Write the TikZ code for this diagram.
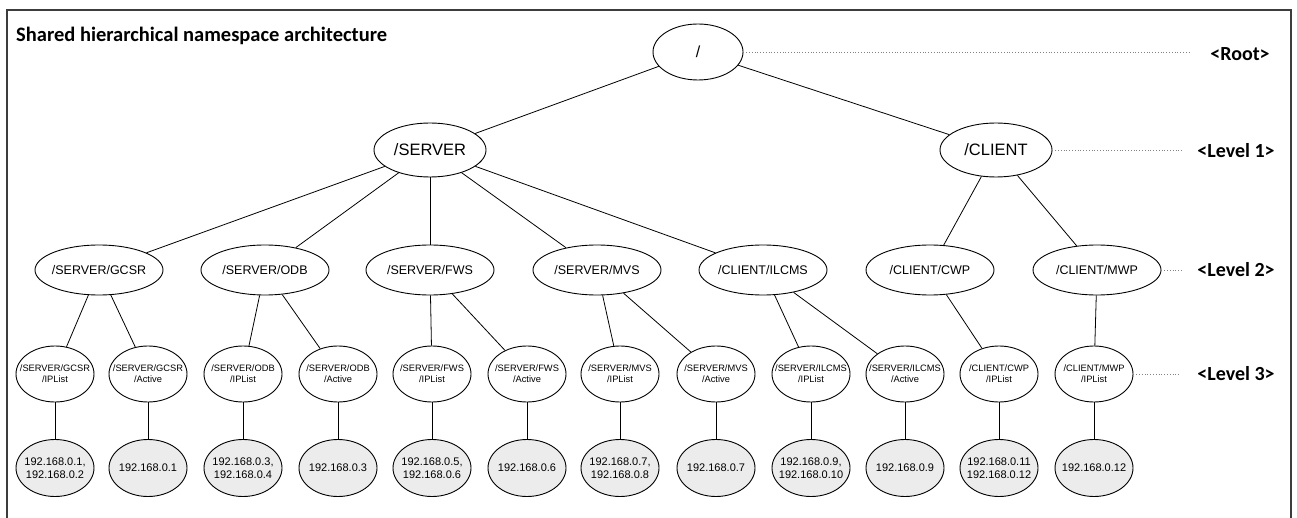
\documentclass[tikz,border=0pt]{standalone}
\usepackage{fontspec}
\setmainfont{Liberation Sans}
\newfontfamily\titlefont{Carlito}
\usetikzlibrary{shapes.geometric, positioning}
\definecolor{primary}{RGB}{0, 0, 0}
\definecolor{framegray}{RGB}{60, 60, 60}
\definecolor{dotgray}{RGB}{130, 130, 130}
\definecolor{leafgray}{RGB}{236, 236, 236}

\begin{document}
\begin{tikzpicture}[x=1pt, y=-1pt,
		ns/.style={ellipse, draw=primary, line width=0.9pt, fill=white,
			inner xsep=-14pt, inner ysep=-5pt, align=center},
		root/.style={ns, minimum width=90pt, minimum height=56pt,
			font=\fontsize{16}{18}\selectfont},
		lvla/.style={ns, minimum width=112pt, minimum height=54pt,
			font=\fontsize{16.5}{18}\selectfont},
		lvlb/.style={ns, minimum width=128pt, minimum height=50pt,
			font=\fontsize{12.5}{14}\selectfont},
		lvlc/.style={ns, minimum width=78pt, minimum height=56pt,
			font=\fontsize{9.3}{11}\selectfont},
		addr/.style={ns, fill=leafgray, minimum width=78pt, minimum height=57pt,
			font=\fontsize{11}{12.5}\selectfont},
		edge/.style={draw=primary, line width=0.8pt},
		guide/.style={draw=dotgray, dotted, line width=0.8pt},
		levellbl/.style={font=\titlefont\bfseries\fontsize{20}{22}\selectfont}
		]
		\useasboundingbox (0,0) rectangle (1297,518);
		\draw[framegray, line width=1.3pt] (7,540) -- (7,10) -- (1291,10) -- (1291,540);
		
		% Titre
		\node[anchor=base west, font=\titlefont\bfseries\fontsize{20.5}{22}\selectfont,
		inner sep=0pt] (title) at (16,42) {Shared hierarchical namespace architecture};
		
		% Racine et niveau 1
		\node[root] (rootns) at (698,52)  {/};
		\node[lvla] (server) at (430,150) {/SERVER};
		\node[lvla] (client) at (996,150) {/CLIENT};
		
		% Niveau 2
		\node[lvlb] (gcsr)  at (99,270)   {/SERVER/GCSR};
		\node[lvlb] (odb)   at (265,270)  {/SERVER/ODB};
		\node[lvlb] (fws)   at (430,270)  {/SERVER/FWS};
		\node[lvlb] (mvs)   at (597,270)  {/SERVER/MVS};
		\node[lvlb] (ilcms) at (763,270)  {/CLIENT/ILCMS};
		\node[lvlb] (cwp)   at (930,270)  {/CLIENT/CWP};
		\node[lvlb] (mwp)   at (1097,270) {/CLIENT/MWP};
		
		% Niveau 3
		\node[lvlc] (gcsrlist)  at (55,374)   {/SERVER/GCSR\\/IPList};
		\node[lvlc] (gcsract)   at (148,374)  {/SERVER/GCSR\\/Active};
		\node[lvlc] (odblist)   at (243,374)  {/SERVER/ODB\\/IPList};
		\node[lvlc] (odbact)    at (338,374)  {/SERVER/ODB\\/Active};
		\node[lvlc] (fwslist)   at (432,374)  {/SERVER/FWS\\/IPList};
		\node[lvlc] (fwsact)    at (527,374)  {/SERVER/FWS\\/Active};
		\node[lvlc] (mvslist)   at (620,374)  {/SERVER/MVS\\/IPList};
		\node[lvlc] (mvsact)    at (716,374)  {/SERVER/MVS\\/Active};
		\node[lvlc] (ilcmslist) at (811,374)  {/SERVER/ILCMS\\/IPList};
		\node[lvlc] (ilcmsact)  at (905,374)  {/SERVER/ILCMS\\/Active};
		\node[lvlc] (cwplist)   at (999,374)  {/CLIENT/CWP\\/IPList};
		\node[lvlc] (mwplist)   at (1094,374) {/CLIENT/MWP\\/IPList};
		
		% Adresses
		\node[addr] (gcsrlist-ip)  at (55,468)   {192.168.0.1,\\192.168.0.2};
		\node[addr] (gcsract-ip)   at (148,468)  {192.168.0.1};
		\node[addr] (odblist-ip)   at (243,468)  {192.168.0.3,\\192.168.0.4};
		\node[addr] (odbact-ip)    at (338,468)  {192.168.0.3};
		\node[addr] (fwslist-ip)   at (432,468)  {192.168.0.5,\\192.168.0.6};
		\node[addr] (fwsact-ip)    at (527,468)  {192.168.0.6};
		\node[addr] (mvslist-ip)   at (620,468)  {192.168.0.7,\\192.168.0.8};
		\node[addr] (mvsact-ip)    at (716,468)  {192.168.0.7};
		\node[addr] (ilcmslist-ip) at (811,468)  {192.168.0.9,\\192.168.0.10};
		\node[addr] (ilcmsact-ip)  at (905,468)  {192.168.0.9};
		\node[addr] (cwplist-ip)   at (999,468)  {192.168.0.11\\192.168.0.12};
		\node[addr] (mwplist-ip)   at (1094,468) {192.168.0.12};
		
		% Liens
		\draw[edge] (rootns) -- (server);
		\draw[edge] (rootns) -- (client);
		\foreach \c in {gcsr, odb, fws, mvs, ilcms}
		\draw[edge] (server) -- (\c);
		\foreach \c in {cwp, mwp}
		\draw[edge] (client) -- (\c);
		\foreach \p/\c in {gcsr/gcsrlist, gcsr/gcsract, odb/odblist, odb/odbact,
			fws/fwslist, fws/fwsact, mvs/mvslist, mvs/mvsact,
			ilcms/ilcmslist, ilcms/ilcmsact, cwp/cwplist, mwp/mwplist}
		\draw[edge] (\p) -- (\c);
		\foreach \s in {gcsrlist, gcsract, odblist, odbact, fwslist, fwsact,
			mvslist, mvsact, ilcmslist, ilcmsact, cwplist, mwplist}
		\draw[edge] (\s) -- (\s-ip);
		
		% Niveaux
		\node[levellbl] (lblroot) at (1240,54)  {<Root>};
		\node[levellbl] (lblone)  at (1236,151) {<Level 1>};
		\node[levellbl] (lbltwo)  at (1236,270) {<Level 2>};
		\node[levellbl] (lblthree) at (1236,374) {<Level 3>};
		\coordinate (endroot)  at (1190,52);
		\coordinate (endone)   at (1182,150);
		\coordinate (endtwo)   at (1182,270);
		\coordinate (endthree) at (1180,374);
		\draw[guide] (rootns.east) -- (endroot);
		\draw[guide] (client.east) -- (endone);
		\draw[guide] (mwp.east) -- (endtwo);
		\draw[guide] (mwplist.east) -- (endthree);
	\end{tikzpicture}
\end{document}
